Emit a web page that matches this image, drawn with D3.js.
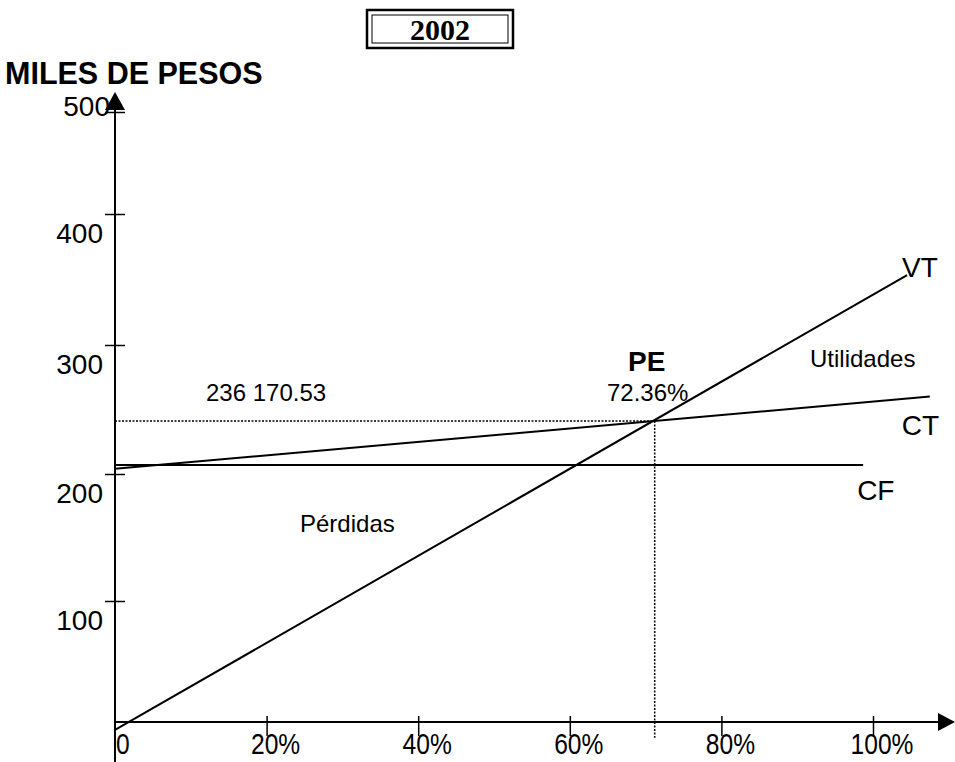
<!DOCTYPE html>
<html>
<head>
<meta charset="utf-8">
<script src="https://cdn.jsdelivr.net/npm/d3@7/dist/d3.min.js"></script>
<style>
    body{margin:0;background:#fff;}
    svg text{font-family:"Liberation Sans",Arial,sans-serif;fill:#000;}
</style>
</head>
<body>
<div id="chart"></div>
<script>
// datos (porcentaje de ventas vs miles de pesos)
var pctTicks = [20, 40, 60, 80, 100];
var pctLabels = ["20%", "40%", "60%", "80%", "100%"];
var milesTicks = [100, 200, 300, 400, 500];
var milesLabels = ["100", "200", "300", "400", "500"];

var costoFijo = [[0, 207], [98.7, 207]];
var costoTotal = [[0, 204], [107.5, 260]];
var ventasTotales = [[0, -6.6], [104.5, 353.4]];
var puntoEq = [71.2, 241];
var puntoEqPct = "72.36%";
var puntoEqMonto = "236 170.53";
var titulo = "2002";

(function(){
    var width = 955, height = 762;
    var svg = d3.select("#chart").append("svg")
        .attr("width", width).attr("height", height);

    // escala x lineal, escala y por tramos (el dibujo original no es uniforme)
    var x = d3.scaleLinear().domain([0, 100]).range([115, 873]);
    var y = d3.scaleLinear()
        .domain([0, 100, 200, 300, 400, 500])
        .range([722, 601, 474, 345, 214, 112]);

    var line = d3.line()
        .x(function(d){ return x(d[0]); })
        .y(function(d){ return y(d[1]); });

    // titulo con doble borde
    var box = svg.append("g");
    box.append("rect").attr("x", 367).attr("y", 10).attr("width", 146).attr("height", 38)
        .attr("fill", "none").attr("stroke", "#000").attr("stroke-width", 2.5);
    box.append("rect").attr("x", 372).attr("y", 15).attr("width", 136).attr("height", 28)
        .attr("fill", "none").attr("stroke", "#000").attr("stroke-width", 1);
    box.append("text").attr("x", 440).attr("y", 40).attr("text-anchor", "middle")
        .style("font-family", "'Liberation Serif','Times New Roman',serif")
        .style("font-weight", "bold").style("font-size", "30px")
        .text(titulo);

    svg.append("text").attr("x", 5).attr("y", 84)
        .style("font-weight", "bold").style("font-size", "30.5px")
        .text("MILES DE PESOS");

    // eje y
    svg.append("line").attr("x1", x(0)).attr("x2", x(0))
        .attr("y1", 100).attr("y2", height)
        .attr("stroke", "#000").attr("stroke-width", 2);
    svg.append("path")
        .attr("d", "M" + x(0) + ",92 L" + (x(0) - 10) + ",110 L" + (x(0) + 10) + ",110 Z")
        .attr("fill", "#000");

    var yAxis = svg.append("g")
        .attr("transform", "translate(" + x(0) + ",0)")
        .call(d3.axisLeft(y).tickValues(milesTicks).tickSize(10).tickFormat(""));
    yAxis.select(".domain").remove();
    yAxis.selectAll(".tick line").attr("x1", 10).attr("x2", -10)
        .attr("stroke", "#000").attr("stroke-width", 1.5);

    svg.selectAll(".ylab").data(milesTicks).enter().append("text")
        .attr("class", "ylab")
        .attr("x", function(d){ return x(0) - (d === 500 ? 5 : 12); })
        .attr("y", function(d){ return y(d) + (d === 500 ? 4 : 29); })
        .attr("text-anchor", "end")
        .style("font-size", "28px")
        .text(function(d, i){ return milesLabels[i]; });

    // eje x
    svg.append("line").attr("x1", x(0)).attr("x2", 940)
        .attr("y1", y(0)).attr("y2", y(0))
        .attr("stroke", "#000").attr("stroke-width", 2);
    svg.append("path")
        .attr("d", "M955," + y(0) + " L938," + (y(0) - 9) + " L938," + (y(0) + 9) + " Z")
        .attr("fill", "#000");

    var xAxis = svg.append("g")
        .attr("transform", "translate(0," + y(0) + ")")
        .call(d3.axisBottom(x).tickValues(pctTicks).tickSize(14).tickFormat(""));
    xAxis.select(".domain").remove();
    xAxis.selectAll(".tick line").attr("y1", -6).attr("y2", 14)
        .attr("stroke", "#000").attr("stroke-width", 1.5);

    svg.append("text")
        .attr("transform", "translate(" + (x(0) + 1) + ",754) scale(0.82,1)")
        .style("font-size", "30px").text("0");
    svg.selectAll(".xlab").data(pctTicks).enter().append("text")
        .attr("class", "xlab")
        .attr("transform", function(d){ return "translate(" + (x(d) + 9) + ",754) scale(0.82,1)"; })
        .attr("text-anchor", "middle")
        .style("font-size", "30px")
        .text(function(d, i){ return pctLabels[i]; });

    // lineas punteadas del punto de equilibrio
    svg.append("line")
        .attr("x1", x(0)).attr("x2", x(puntoEq[0]))
        .attr("y1", y(puntoEq[1])).attr("y2", y(puntoEq[1]))
        .attr("stroke", "#000").attr("stroke-width", 1.5).attr("stroke-dasharray", "2,1.5");
    svg.append("line")
        .attr("x1", x(puntoEq[0])).attr("x2", x(puntoEq[0]))
        .attr("y1", y(puntoEq[1])).attr("y2", y(-13))
        .attr("stroke", "#000").attr("stroke-width", 1.5).attr("stroke-dasharray", "2,1.5");

    // rectas CF, CT, VT
    [costoFijo, costoTotal, ventasTotales].forEach(function(serie){
        svg.append("path").datum(serie)
            .attr("d", line)
            .attr("fill", "none")
            .attr("stroke", "#000")
            .attr("stroke-width", 2);
    });

    var endOf = function(serie){ return serie[serie.length - 1]; };
    svg.append("text")
        .attr("x", x(endOf(ventasTotales)[0]) - 5).attr("y", y(endOf(ventasTotales)[1]) + 2)
        .style("font-size", "28px").text("VT");
    svg.append("text")
        .attr("x", x(endOf(costoTotal)[0]) - 28).attr("y", y(endOf(costoTotal)[1]) + 38)
        .style("font-size", "28px").text("CT");
    svg.append("text")
        .attr("x", x(endOf(costoFijo)[0]) - 6).attr("y", y(endOf(costoFijo)[1]) + 35)
        .style("font-size", "28px").text("CF");

    // textos del punto de equilibrio
    var pex = x(puntoEq[0]), pey = y(puntoEq[1]);
    svg.append("text").attr("x", pex - 8).attr("y", pey - 50)
        .attr("text-anchor", "middle")
        .style("font-weight", "bold").style("font-size", "28px").text("PE");
    svg.append("text").attr("x", pex - 7).attr("y", pey - 20)
        .attr("text-anchor", "middle")
        .style("font-size", "24px").text(puntoEqPct);
    svg.append("text").attr("x", 206).attr("y", pey - 20)
        .style("font-size", "24px").text(puntoEqMonto);

    svg.append("text").attr("x", 810).attr("y", 367)
        .style("font-size", "24px").text("Utilidades");
    svg.append("text").attr("x", 300).attr("y", 532)
        .style("font-size", "24px").text("Pérdidas");
})();
</script>
</body>
</html>
